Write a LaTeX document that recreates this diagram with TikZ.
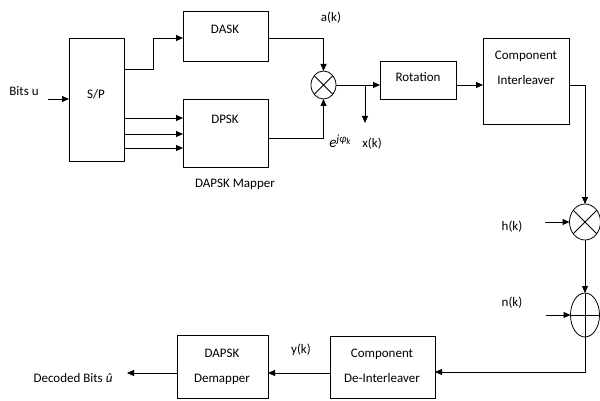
\documentclass[tikz,border=0pt]{standalone}
\usepackage{fontspec}
\setmainfont{Carlito}
\usetikzlibrary{arrows.meta,shapes.geometric}
\begin{document}
\begin{tikzpicture}[x=1pt,y=-1pt,
  every node/.style={inner sep=0pt,outer sep=0pt},
  box/.style={draw,line width=0.8pt,fill=white},
  txt/.style={font=\fontsize{13}{25}\selectfont,align=center},
  mulnode/.style={draw,ellipse,line width=0.8pt},
  ln/.style={line width=0.8pt},
  arr/.style={line width=0.8pt,-{Triangle[length=7pt,width=6pt]}}]
\useasboundingbox (0,0) rectangle (600,401);
% boxes
\node[box,minimum width=55,minimum height=123] (sp) at (96.5,99.5) {};
\node[box,minimum width=85,minimum height=50] (dask) at (225.5,36) {};
\node[box,minimum width=85,minimum height=68] (dpsk) at (225.5,133) {};
\node[box,minimum width=76,minimum height=38] (rot) at (418,80) {};
\node[box,minimum width=86,minimum height=86] (il) at (526,81) {};
\node[box,minimum width=105,minimum height=62] (dei) at (382.5,367) {};
\node[box,minimum width=91,minimum height=63] (dem) at (222.5,366.5) {};
% mixers
\node[mulnode,minimum width=25,minimum height=28] (mul) at (323.5,85) {};
\draw[ln] (mul.45) -- (mul.225) (mul.135) -- (mul.315);
\node[mulnode,minimum width=31,minimum height=36] (mul2) at (585,222) {};
\draw[ln] (mul2.45) -- (mul2.225) (mul2.135) -- (mul2.315);
\node[mulnode,minimum width=29,minimum height=44] (add) at (585,315) {};
\draw[ln] (add.north) -- (add.south) (add.west) -- (add.east);
% texts
\node[txt] (spT) at (96,94) {S/P};
\node[txt] (daskT) at (225,29) {DASK};
\node[txt] (dpskT) at (225,119) {DPSK};
\node[txt] (rotT) at (418,77) {Rotation};
\node[txt] (ilT) at (526,68) {Component\\Interleaver};
\node[txt] (deiT) at (382,365.5) {Component\\De-Interleaver};
\node[txt] (demT) at (222,367) {DAPSK\\Demapper};
\node[txt] (mapT) at (235,184) {DAPSK Mapper};
\node[txt] (bitsT) at (24,91) {Bits u};
\node[txt] (decT) at (73,378) {Decoded Bits \textit{û}};
\node[txt] (akT) at (331,18) {a(k)};
\node[txt,font=\fontsize{15}{16}\selectfont\itshape] (ejT) at (340,141) {e\raisebox{5pt}{\fontsize{11}{12}\selectfont jφ\raisebox{-2pt}{\fontsize{9}{10}\selectfont k}}};
\node[txt] (xkT) at (372,144) {x(k)};
\node[txt] (hkT) at (512,227) {h(k)};
\node[txt] (nkT) at (512,303) {n(k)};
\node[txt] (ykT) at (301,350) {y(k)};
% free ends
\coordinate (bitsin) at (48,99);
\coordinate (br) at (365,85);
\coordinate (xk) at (365,123);
\coordinate (hin) at (545,222);
\coordinate (nin) at (546,315);
\coordinate (decout) at (127,373);
% connectors
\draw[arr] (bitsin) -- (sp.west |- bitsin);
\draw[arr] (sp.east |- 0,69) -- (153,69) |- (dask.west |- 0,38);
\draw[arr] (sp.east |- 0,118) -- (dpsk.west |- 0,118);
\draw[arr] (sp.east |- 0,134) -- (dpsk.west |- 0,134);
\draw[arr] (sp.east |- 0,148) -- (dpsk.west |- 0,148);
\draw[arr] (dask.east |- 0,38) -| (mul.north);
\draw[arr] (dpsk.east |- 0,138) -| (mul.south);
\draw[arr] (mul.east) -- (rot.west |- mul.east);
\draw[arr] (br) -- (xk);
\draw[arr] (rot.east |- 0,85) -- (il.west |- 0,85);
\draw[arr] (il.east |- 0,85) -| (mul2.north);
\draw[arr] (hin) -- (mul2.west);
\draw[arr] (mul2.south) -- (add.north);
\draw[arr] (nin) -- (add.west);
\draw[arr] (add.south) |- (dei.east |- 0,372);
\draw[arr] (dei.west |- 0,373) -- (dem.east |- 0,373);
\draw[arr] (dem.west |- 0,373) -- (decout);
\end{tikzpicture}
\end{document}
